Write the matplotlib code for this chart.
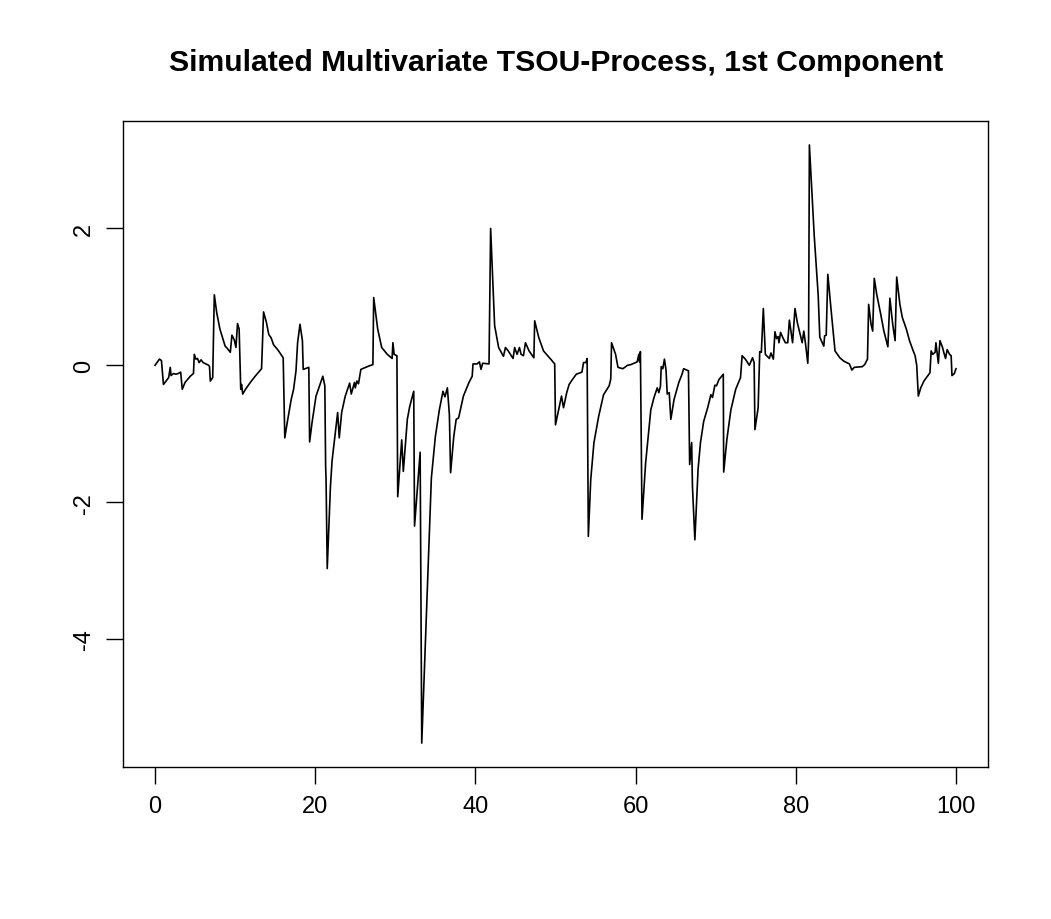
import numpy as np
import matplotlib
matplotlib.use("Agg")
import matplotlib.pyplot as plt

plt.rcParams['font.family'] = ['Liberation Sans', 'DejaVu Sans']

# time points and values
t = [0.0, 0.55, 0.8, 1.05, 1.7, 1.9, 2.0, 2.3, 2.6, 2.9, 3.2, 3.4, 3.75, 4.4, 4.8, 4.9,
     5.1, 5.3, 5.5, 5.75, 6.0, 6.7, 6.8, 6.9, 7.2, 7.4, 7.7, 8.1, 8.75, 9.0, 9.4, 9.6,
     9.9, 10.1, 10.3, 10.5, 10.7, 10.8, 10.95, 11.3, 11.9, 12.5, 13.3, 13.55, 13.9, 14.2,
     14.5, 14.8, 15.3, 15.6, 16.0, 16.2, 16.5, 17.0, 17.3, 17.6, 17.8, 18.1, 18.4, 18.5,
     19.2, 19.3, 19.6, 20.1, 20.6, 20.95, 21.2, 21.3, 21.35, 21.5, 21.9, 22.1, 22.5, 22.8,
     23.0, 23.3, 23.75, 24.3, 24.5, 24.9, 25.0, 25.2, 25.4, 25.7, 26.3, 26.7, 27.2, 27.3,
     27.8, 28.3, 29.0, 29.6, 29.7, 29.85, 30.2, 30.3, 30.8, 31.0, 31.5, 31.8, 32.3, 32.4,
     33.1, 33.3, 34.5, 35.0, 35.5, 35.95, 36.2, 36.5, 36.75, 36.9, 37.3, 37.6, 37.9, 38.5,
     39.2, 39.6, 39.7, 40.2, 40.5, 40.7, 40.9, 41.7, 41.9, 42.4, 42.9, 43.5, 43.75, 44.1,
     44.7, 44.9, 45.2, 45.5, 45.7, 46.0, 46.25, 46.7, 47.3, 47.4, 47.9, 48.5, 49.4, 49.9,
     50.0, 50.4, 50.75, 51.0, 51.4, 51.7, 52.1, 52.6, 53.3, 53.5, 53.8, 53.95, 54.1, 54.4,
     54.8, 55.4, 56.0, 56.7, 56.9, 57.0, 57.2, 57.5, 57.8, 58.4, 59.0, 59.4, 59.8, 60.2,
     60.4, 60.5, 60.6, 60.8, 61.25, 61.9, 62.3, 62.7, 62.9, 63.1, 63.2, 63.4, 63.6, 63.8,
     63.95, 64.2, 64.4, 64.8, 65.4, 65.8, 66.0, 66.6, 66.75, 67.0, 67.1, 67.4, 67.8, 68.1,
     68.5, 69.0, 69.4, 69.6, 69.9, 70.1, 70.4, 70.95, 71.0, 71.4, 71.9, 72.5, 73.1, 73.3,
     73.7, 74.2, 74.6, 74.8, 74.9, 75.3, 75.5, 75.7, 75.95, 76.2, 76.7, 76.9, 77.2, 77.4,
     77.6, 77.8, 77.9, 78.1, 78.4, 78.7, 79.0, 79.2, 79.6, 79.9, 80.2, 80.6, 80.8, 81.0,
     81.2, 81.5, 81.6, 81.7, 82.3, 82.8, 83.0, 83.5, 83.6, 83.8, 84.0, 84.4, 84.9, 85.5,
     86.0, 86.7, 87.0, 87.3, 88.3, 88.6, 88.95, 89.1, 89.4, 89.6, 89.8, 90.1, 90.6, 91.0,
     91.5, 91.75, 92.1, 92.4, 92.6, 93.0, 93.3, 93.8, 94.2, 94.6, 94.9, 95.1, 95.3, 95.6,
     96.0, 96.75, 96.9, 97.1, 97.4, 97.5, 97.8, 98.0, 98.3, 98.5, 98.7, 98.9, 99.2, 99.4,
     99.5, 99.8, 100.0]
x1 = [0.0, 0.09, 0.07, -0.28, -0.18, -0.03, -0.15, -0.12, -0.13, -0.12, -0.10, -0.35, -0.25,
      -0.16, -0.12, 0.16, 0.09, 0.10, 0.04, 0.08, 0.04, 0.0, -0.02, -0.23, -0.18, 1.03, 0.77,
      0.53, 0.28, 0.25, 0.19, 0.44, 0.37, 0.26, 0.61, 0.53, -0.35, -0.28, -0.42, -0.35, -0.25,
      -0.16, -0.05, 0.78, 0.63, 0.45, 0.40, 0.30, 0.23, 0.18, 0.11, -1.06, -0.84, -0.50, -0.35,
      -0.08, 0.33, 0.60, 0.36, -0.06, -0.03, -1.12, -0.84, -0.45, -0.28, -0.16, -0.30, -1.48,
      -1.65, -2.97, -1.77, -1.40, -0.99, -0.69, -1.06, -0.69, -0.45, -0.26, -0.42, -0.25, -0.33,
      -0.23, -0.27, -0.06, -0.03, -0.01, 0.01, 0.99, 0.53, 0.26, 0.16, 0.10, 0.33, 0.16, 0.14,
      -1.92, -1.09, -1.55, -0.79, -0.60, -0.38, -2.35, -1.27, -5.52, -1.65, -1.04, -0.65, -0.38,
      -0.46, -0.33, -0.72, -1.57, -1.04, -0.79, -0.77, -0.45, -0.25, -0.16, 0.02, 0.02, 0.05,
      -0.06, 0.03, 0.02, 2.00, 0.58, 0.26, 0.13, 0.26, 0.21, 0.10, 0.26, 0.16, 0.26, 0.16, 0.14,
      0.33, 0.21, 0.11, 0.65, 0.41, 0.21, 0.09, 0.02, -0.87, -0.65, -0.45, -0.62, -0.40, -0.28,
      -0.21, -0.13, -0.10, 0.04, 0.04, 0.10, -2.50, -1.67, -1.13, -0.74, -0.43, -0.30, -0.20,
      0.33, 0.26, 0.16, -0.03, -0.05, 0.00, 0.01, 0.03, 0.05, 0.16, 0.05, 0.20, -2.25, -1.43,
      -0.65, -0.47, -0.33, -0.40, -0.31, -0.02, -0.05, 0.09, -0.07, -0.42, -0.40, -0.79, -0.50,
      -0.25, -0.13, -0.05, -0.08, -1.45, -1.13, -1.77, -2.55, -1.52, -1.13, -0.82, -0.62, -0.43,
      -0.47, -0.29, -0.30, -0.21, -0.13, -1.56, -1.08, -0.65, -0.35, -0.18, 0.14, 0.09, 0.00,
      0.11, 0.04, -0.94, -0.62, 0.20, 0.19, 0.83, 0.16, 0.10, 0.18, 0.09, 0.49, 0.39, 0.42,
      0.33, 0.48, 0.40, 0.33, 0.33, 0.66, 0.33, 0.83, 0.62, 0.43, 0.33, 0.50, 0.33, 0.03, 0.36,
      3.22, 1.90, 1.02, 0.41, 0.28, 0.43, 0.44, 1.33, 0.82, 0.21, 0.11, 0.06, 0.02, -0.07, -0.03,
      -0.02, 0.01, 0.09, 0.89, 0.60, 0.50, 1.27, 1.04, 0.75, 0.50, 0.27, 0.98, 0.60, 0.36, 1.29,
      0.89, 0.70, 0.53, 0.36, 0.23, 0.14, 0.00, -0.45, -0.33, -0.23, -0.11, 0.21, 0.16, 0.19,
      0.33, 0.03, 0.36, 0.27, 0.18, 0.10, 0.23, 0.16, 0.14, -0.15, -0.12, -0.05]

xticks = [0, 20, 40, 60, 80, 100]
yticks = [-4, -2, 0, 2]
title = "Simulated Multivariate TSOU-Process, 1st Component"

fig = plt.figure(figsize=(10.51, 9.2), dpi=100)
ax = fig.add_axes([123/1051, 1 - 768/920, 865/1051, 646/920])

ax.plot(t, x1, color="black", linewidth=1.2)

# R style 4% padding
tr = max(t) - min(t)
vr = max(x1) - min(x1)
ax.set_xlim(min(t) - 0.04 * tr, max(t) + 0.04 * tr)
ax.set_ylim(min(x1) - 0.04 * vr, max(x1) + 0.04 * vr)

ax.set_xticks(xticks)
ax.set_yticks(yticks)
ax.set_yticklabels([str(v) for v in yticks], rotation=90, va="center")
ax.tick_params(axis="both", direction="out", length=12, width=1, labelsize=17, pad=8)
for s in ax.spines.values():
    s.set_linewidth(1)

fig.text(556/1051, 1 - 63/920, title, ha="center", va="center",
         fontsize=21.7, fontweight="bold")

fig.savefig("out.png", dpi=100)
